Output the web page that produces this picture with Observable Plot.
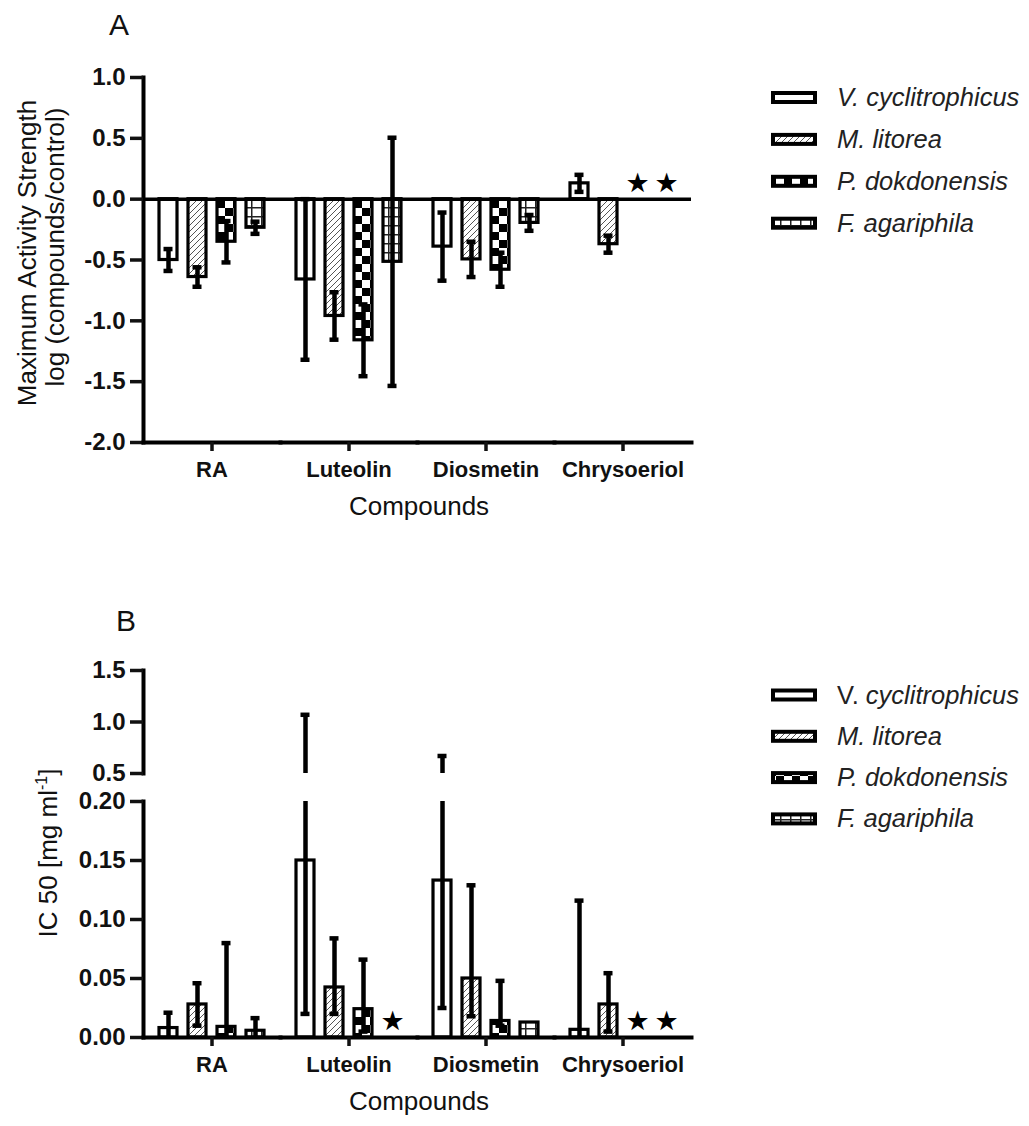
<!DOCTYPE html>
<html>
<head>
<meta charset="utf-8">
<script src="https://cdn.jsdelivr.net/npm/d3@7"></script>
<script src="https://cdn.jsdelivr.net/npm/@observablehq/plot@0.6"></script>
<style>
  body { margin: 0; background: #fff; }
  #root { position: relative; width: 1029px; height: 1126px; overflow: hidden; background: #fff;
          font-family: "Liberation Sans", Arial, sans-serif; }
  #root > svg { position: absolute; }
</style>
</head>
<body>
<svg width="0" height="0" style="position:absolute;left:0;top:0">
  <defs>
    <pattern id="pat-hatch" patternUnits="userSpaceOnUse" width="6" height="6">
      <rect width="6" height="6" fill="#fff"/>
      <path d="M-1,1 L1,-1 M0,6 L6,0 M5,7 L7,5" stroke="#555" stroke-width="1"/>
    </pattern>
    <pattern id="pat-check" patternUnits="userSpaceOnUse" width="16" height="16">
      <rect width="16" height="16" fill="#fff"/>
      <rect width="8" height="8" fill="#000"/>
      <rect x="8" y="8" width="8" height="8" fill="#000"/>
    </pattern>
    <pattern id="pat-grid" patternUnits="userSpaceOnUse" width="10" height="9">
      <rect width="10" height="9" fill="#fff"/>
      <path d="M0,0.75 H10 M0.75,0 V9" stroke="#222" stroke-width="1.5"/>
    </pattern>
  </defs>
</svg>
<div id="root"></div>
<script>
// ---------------- DATA ----------------
const compounds = ["RA", "Luteolin", "Diosmetin", "Chrysoeriol"];
const species = ["V. cyclitrophicus", "M. litorea", "P. dokdonensis", "F. agariphila"];

// Panel A: Maximum Activity Strength, log(compounds/control); mean and SD per compound
const meanA_V = [-0.50, -0.66, -0.39, 0.13];
const meanA_M = [-0.64, -0.96, -0.495, -0.37];
const meanA_P = [-0.35, -1.16, -0.58, null];
const meanA_F = [-0.235, -0.515, -0.195, null];
const sdA_V = [0.09, 0.66, 0.28, 0.07];
const sdA_M = [0.08, 0.195, 0.145, 0.07];
const sdA_P = [0.17, 0.295, 0.14, null];
const sdA_F = [0.05, 1.02, 0.065, null];

// Panel B: IC 50 [mg ml-1]; mean, lower and upper end of the error bar
const meanB_V = [0.008, 0.150, 0.133, 0.0065];
const meanB_M = [0.028, 0.0424, 0.050, 0.028];
const meanB_P = [0.009, 0.024, 0.014, null];
const meanB_F = [0.0057, null, 0.0127, null];
const errLoB_V = [0, 0.02, 0.025, 0];
const errHiB_V = [0.021, 1.07, 0.67, 0.116];
const errLoB_M = [0.01, 0.02, 0.018, 0.005];
const errHiB_M = [0.046, 0.084, 0.129, 0.0545];
const errLoB_P = [0, 0.005, 0.01, null];
const errHiB_P = [0.080, 0.066, 0.048, null];
const errLoB_F = [0, null, null, null];
const errHiB_F = [0.0164, null, null, null];

// star markers (no value) are drawn at this level
const starLevelA = 0.13;
const starLevelB = 0.014;

const ticksA = [-2.0, -1.5, -1.0, -0.5, 0.0, 0.5, 1.0];
const ticksBUpper = [0.5, 1.0, 1.5];
const ticksBLower = [0.00, 0.05, 0.10, 0.15, 0.20];

const legendA = [["", "V. cyclitrophicus"], ["", "M. litorea"], ["", "P. dokdonensis"], ["", "F. agariphila"]];
const legendB = [["V. ", "cyclitrophicus"], ["", "M. litorea"], ["", "P. dokdonensis"], ["", "F. agariphila"]];
const fills = ["#ffffff", "url(#pat-hatch)", "url(#pat-check)", "url(#pat-grid)"];

// ---------------- TABLES ----------------
const meansA = [meanA_V, meanA_M, meanA_P, meanA_F];
const sdsA = [sdA_V, sdA_M, sdA_P, sdA_F];
const rowsA = [];
compounds.forEach((c, i) => species.forEach((s, j) => {
  const m = meansA[j][i], sd = sdsA[j][i];
  rowsA.push({compound: c, species: s, mean: m,
              lo: m == null ? null : m - sd, hi: m == null ? null : m + sd});
}));

const meansB = [meanB_V, meanB_M, meanB_P, meanB_F];
const losB = [errLoB_V, errLoB_M, errLoB_P, errLoB_F];
const hisB = [errHiB_V, errHiB_M, errHiB_P, errHiB_F];
const rowsB = [];
compounds.forEach((c, i) => species.forEach((s, j) => {
  rowsB.push({compound: c, species: s, mean: meansB[j][i], lo: losB[j][i], hi: hisB[j][i]});
}));

// ---------------- CHARTS ----------------
const FONT = '"Liberation Sans", Arial, sans-serif';
const INK = "#111";

function chart({rows, starLevel, yDomain, ticks, fmt, height, marginTop, marginBottom, bottomAxis}) {
  const stars = rows.filter(d => d.mean == null);
  const clip = true;
  const marks = [
    Plot.barY(rows, {fx: "compound", x: "species", y: "mean", fill: "species",
                     stroke: "#000", strokeWidth: 3.2, clip}),
  ];
  if (yDomain[0] < 0) marks.push(Plot.ruleY([0], {stroke: "#000", strokeWidth: 3.5}));
  marks.push(
    Plot.ruleX(rows, {fx: "compound", x: "species", y1: "lo", y2: "hi", stroke: "#000", strokeWidth: 4.5, clip}),
    Plot.tickY(rows, {fx: "compound", x: "species", y: "hi", stroke: "#000", strokeWidth: 4.5,
                      insetLeft: 4.5, insetRight: 4.5, clip}),
    Plot.tickY(rows.filter(d => d.lo > 0 || d.lo < 0), {fx: "compound", x: "species", y: "lo", stroke: "#000",
                      strokeWidth: 4.5, insetLeft: 4.5, insetRight: 4.5, clip}),
    Plot.text(stars, {fx: "compound", x: "species", y: () => starLevel, text: () => "★",
                      fontSize: 27, fill: "#000", fontFamily: "DejaVu Sans", clip}),
    Plot.frame({anchor: "left", facetAnchor: "left", stroke: "#000", strokeWidth: 4}),
    Plot.axisY({ticks, tickFormat: fmt, tickSize: 13, tickPadding: 5, strokeWidth: 3.5,
                fontSize: 24, fontWeight: "bold", fill: INK, label: null})
  );
  if (bottomAxis) {
    marks.push(
      Plot.frame({anchor: "bottom", stroke: "#000", strokeWidth: 4}),
      Plot.axisFx({anchor: "bottom", tickSize: 9, tickPadding: 10, strokeWidth: 3.5,
                   fontSize: 22, fontWeight: "bold", fill: INK, label: null})
    );
  }
  return Plot.plot({
    width: 700, height, marginLeft: 142, marginRight: 8, marginTop, marginBottom,
    style: {fontFamily: FONT, background: "transparent", overflow: "visible", color: INK},
    fx: {domain: compounds, padding: 0, label: null, axis: bottomAxis ? undefined : null},
    x: {domain: species, paddingInner: 0.3667, paddingOuter: 0.475, axis: null},
    y: {domain: yDomain, label: null},
    color: {type: "ordinal", domain: species, range: fills},
    marks
  });
}

const root = document.getElementById("root");

const svgA = chart({rows: rowsA, starLevel: starLevelA, yDomain: [-2, 1], ticks: ticksA,
                    fmt: d => d.toFixed(1), height: 500, marginTop: 77, marginBottom: 58, bottomAxis: true});
svgA.style.left = "0px"; svgA.style.top = "0px";
root.appendChild(svgA);

const svgBU = chart({rows: rowsB, starLevel: starLevelB, yDomain: [0.5, 1.5], ticks: ticksBUpper,
                     fmt: d => d.toFixed(1), height: 141, marginTop: 30, marginBottom: 8, bottomAxis: false});
svgBU.style.left = "0px"; svgBU.style.top = "640px";
root.appendChild(svgBU);

const svgBL = chart({rows: rowsB, starLevel: starLevelB, yDomain: [0, 0.2], ticks: ticksBLower,
                     fmt: d => d.toFixed(2), height: 312, marginTop: 16, marginBottom: 60, bottomAxis: true});
svgBL.style.left = "0px"; svgBL.style.top = "785px";
root.appendChild(svgBL);

// ---------------- TITLES & LEGENDS (overlay) ----------------
const ov = d3.select(root).append("svg")
  .attr("width", 1029).attr("height", 1126)
  .style("left", "0px").style("top", "0px").style("pointer-events", "none")
  .attr("font-family", FONT).attr("fill", INK);

ov.append("text").attr("x", 109).attr("y", 35).attr("font-size", 30).text("A");
ov.append("text").attr("x", 116).attr("y", 631).attr("font-size", 30).text("B");

ov.append("text").attr("transform", "translate(36,253) rotate(-90)").attr("text-anchor", "middle")
  .attr("font-size", 26).text("Maximum Activity Strength");
ov.append("text").attr("transform", "translate(64,247) rotate(-90)").attr("text-anchor", "middle")
  .attr("font-size", 26).text("log (compounds/control)");

const ic = ov.append("text").attr("transform", "translate(57,853) rotate(-90)").attr("text-anchor", "middle")
  .attr("font-size", 26);
ic.append("tspan").text("IC 50 [mg ml");
ic.append("tspan").attr("dy", -10).attr("font-size", 16).text("-1");
ic.append("tspan").attr("dy", 10).text("]");

ov.append("text").attr("x", 419).attr("y", 515).attr("text-anchor", "middle").attr("font-size", 26).text("Compounds");
ov.append("text").attr("x", 419).attr("y", 1110).attr("text-anchor", "middle").attr("font-size", 26).text("Compounds");

function legend(items, y0, step) {
  items.forEach((parts, i) => {
    const cy = y0 + i * step;
    ov.append("rect").attr("x", 773).attr("y", cy - 4.5).attr("width", 42).attr("height", 9)
      .attr("fill", fills[i]).attr("stroke", "#000").attr("stroke-width", 4);
    const t = ov.append("text").attr("x", 837).attr("y", cy + 8.5).attr("font-size", 25.5).attr("fill", "#222");
    if (parts[0]) t.append("tspan").text(parts[0]);
    t.append("tspan").attr("font-style", "italic").text(parts[1]);
  });
}
legend(legendA, 97.5, 41.9);
legend(legendB, 695, 41.3);
</script>
</body>
</html>
